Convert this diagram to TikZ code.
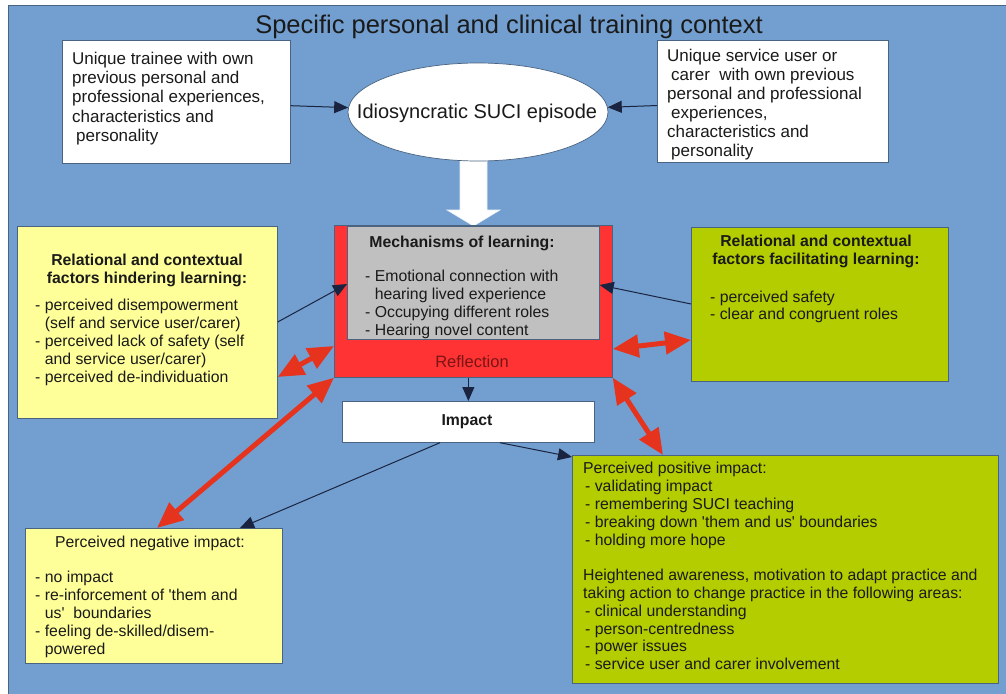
\documentclass[tikz,border=0pt]{standalone}
\usepackage{fontspec}
\setmainfont{Liberation Sans}
\usetikzlibrary{arrows.meta,shapes.geometric}
\definecolor{bgblue}{HTML}{729FCF}
\definecolor{yel}{HTML}{FFFF99}
\definecolor{grn}{HTML}{B3CD00}
\definecolor{boxred}{HTML}{FF3333}
\definecolor{arrred}{HTML}{E5331E}
\definecolor{mgray}{HTML}{C0C0C0}
\definecolor{refltext}{HTML}{7A1515}
\definecolor{bord}{HTML}{4A6380}
\definecolor{navy}{HTML}{1A2440}
\definecolor{ink}{HTML}{1A1A1A}
\begin{document}
\begin{tikzpicture}[x=1pt,y=-1pt,
  box/.style={draw=bord, line width=0.7pt, inner sep=0pt, anchor=north west},
  txt/.style={inner sep=0pt, anchor=north west, align=left, text=ink,
              font=\fontsize{15.8}{17.8}\selectfont},
  bigtxt/.style={inner sep=0pt, anchor=north west, align=left, text=ink,
              font=\fontsize{17}{19.2}\selectfont},
  ttl/.style={inner sep=0pt, anchor=north, align=center, text=ink,
              font=\fontsize{15.8}{18}\selectfont\bfseries},
  barr/.style={draw=navy, line width=1pt, -{Triangle[length=14pt,width=12pt]}},
  rarr/.style={draw=arrred, line width=5pt,
               {Triangle[length=26pt,width=22pt]}-{Triangle[length=26pt,width=22pt]}}
]
\useasboundingbox (0,0) rectangle (1006,693);
\fill[white] (0,0) rectangle (1006,693);
\node[box, fill=bgblue, minimum width=1010pt, minimum height=700pt] (panel) at (8,5) {};

\node[inner sep=0pt, anchor=base, text=ink, font=\fontsize{25.5}{30}\selectfont] (title) at (509,34) {Specific personal and clinical training context};

% top boxes
\node[box, fill=white, minimum width=228pt, minimum height=123pt] (tl) at (62,40) {};
\node[bigtxt] (tltext) at (72,52) {Unique trainee with own\\previous personal and\\professional experiences,\\characteristics and\\\hspace{4pt}personality};
\node[box, fill=white, minimum width=231pt, minimum height=122pt] (tr) at (657,40) {};
\node[bigtxt, font=\fontsize{17}{19}\selectfont] (trtext) at (667,49) {Unique service user or\\\hspace{4pt}carer\ \ with own previous\\personal and professional\\\hspace{4pt}experiences,\\characteristics and\\\hspace{4pt}personality};

% white arrow
\fill[white, draw=white!85!bgblue, line width=0.6pt] (460,150) -- (487,150) -- (487,210) -- (500,210) -- (473.5,226) -- (447,210) -- (460,210) -- cycle;

% ellipse
\node[ellipse, draw=bord, line width=0.7pt, fill=white, minimum width=260pt, minimum height=98pt, inner sep=0pt] (ell) at (478,112) {};
\node[inner sep=0pt, text=ink, font=\fontsize{20}{24}\selectfont] (elltext) at (477,113) {Idiosyncratic SUCI episode};

% reflection / mechanisms
\node[box, fill=boxred, minimum width=278pt, minimum height=152pt] (red) at (334,225) {};
\node[box, fill=mgray, minimum width=252pt, minimum height=113pt] (gray) at (347,226) {};
\node[ttl] (mechttl) at (462,236.3) {Mechanisms of learning:};
\node[txt] (mechtext) at (365,270.3) {- Emotional connection with\\\phantom{- }hearing lived experience\\- Occupying different roles\\- Hearing novel content};
\node[inner sep=0pt, text=refltext, font=\fontsize{16.5}{18}\selectfont] (refl) at (472,362) {Reflection};

% impact
\node[box, fill=white, minimum width=252pt, minimum height=41pt] (imp) at (342,401) {};
\node[inner sep=0pt, text=ink, font=\fontsize{15.8}{18}\selectfont\bfseries] (imptext) at (467,421.5) {Impact};

% hindering
\node[box, fill=yel, minimum width=260pt, minimum height=192pt] (hind) at (17,226) {};
\node[ttl] (hindttl) at (147,254.3) {Relational and contextual\\factors hindering learning:};
\node[txt, font=\fontsize{15.8}{18}\selectfont] (hindtext) at (35,299.3) {- perceived disempowerment\\\phantom{- }(self and service user/carer)\\- perceived lack of safety (self\\\phantom{- }and service user/carer)\\- perceived de-individuation};

% facilitating
\node[box, fill=grn, minimum width=257pt, minimum height=154pt] (fac) at (691,227) {};
\node[ttl] (facttl) at (816,235.3) {Relational and contextual\\factors facilitating learning:};
\node[txt, font=\fontsize{15.8}{16.8}\selectfont] (factext) at (710,291.3) {- perceived safety\\- clear and congruent roles};

% negative
\node[box, fill=yel, minimum width=257pt, minimum height=135pt] (neg) at (25,528) {};
\node[inner sep=0pt, anchor=north, text=ink, font=\fontsize{15.8}{18}\selectfont] (negttl) at (150,536.3) {Perceived negative impact:};
\node[txt] (negtext) at (35,571.3) {- no impact\\- re-inforcement of \textquotesingle them and\\\phantom{- }us\textquotesingle\ \ boundaries\\- feeling de-skilled/disem-\\\phantom{- }powered};

% positive
\node[box, fill=grn, minimum width=426pt, minimum height=228pt] (pos) at (572,455) {};
\node[txt] (postext) at (583,462.3) {Perceived positive impact:\\\hspace{2pt}- validating impact\\\hspace{2pt}- remembering SUCI teaching\\\hspace{2pt}- breaking down \textquotesingle them and us\textquotesingle\ boundaries\\\hspace{2pt}- holding more hope\\~\\Heightened awareness, motivation to adapt practice and\\taking action to change practice in the following areas:\\\hspace{2pt}- clinical understanding\\\hspace{2pt}- person-centredness\\\hspace{2pt}- power issues\\\hspace{2pt}- service user and carer involvement};

% connectors
\draw[barr] (tl) -- (ell);
\draw[barr] (tr) -- (ell);
\draw[barr] (imp.north |- red.south) -- (imp.north);
\draw[barr] (hind.east |- 0,322) -- (gray.west |- 0,284);
\draw[barr] (fac.west |- 0,304) -- (gray.east |- 0,285);
\draw[barr] (imp.south -| 440,0) -- (neg.north -| 240,0);
\draw[barr] (imp.south -| 500,0) -- (pos.west |- 0,457);

\draw[rarr] (hind.east |- 0,377) -- (red.west |- 0,346);
\draw[rarr] (red.south west) -- (neg.north -| 157,0);
\draw[rarr] (red.east |- 0,349) -- (fac.west |- 0,340);
\draw[rarr] (red.south east) -- (pos.north -| 663,0);
\end{tikzpicture}
\end{document}
